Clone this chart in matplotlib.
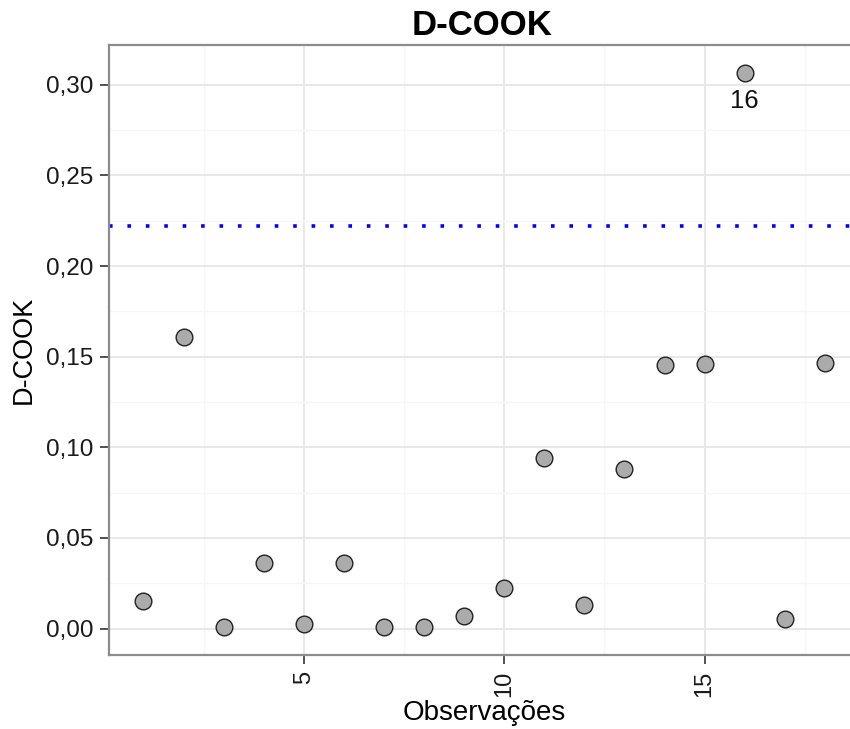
import matplotlib
matplotlib.use("Agg")
import matplotlib.pyplot as plt
import numpy as np

# Data
obs = list(range(1, 19))
cook = [0.0152, 0.1609, 0.0010, 0.0363, 0.0023, 0.0363, 0.0010, 0.0008, 0.0067,
        0.0222, 0.0941, 0.0130, 0.0880, 0.1454, 0.1458, 0.3067, 0.0052, 0.1467]
threshold = 0.2222
highlight = [16]
x_ticks = [5, 10, 15]
y_ticks = [0.00, 0.05, 0.10, 0.15, 0.20, 0.25, 0.30]
y_ticklabels = ["0,00", "0,05", "0,10", "0,15", "0,20", "0,25", "0,30"]

plt.rcParams['font.family'] = ['Liberation Sans', 'DejaVu Sans']

fig = plt.figure(figsize=(8.5, 7.29), dpi=100)
ax = fig.add_axes([109/850, 1 - 655/729, (859 - 109)/850, (655 - 45)/729])

ax.set_xlim(0.14, 18.85)
ax.set_ylim(-0.0146, 0.322)

# grid
ax.set_xticks(x_ticks)
ax.set_yticks(y_ticks)
ax.set_xticks([2.5, 7.5, 12.5, 17.5], minor=True)
ax.set_yticks([0.025, 0.075, 0.125, 0.175, 0.225, 0.275], minor=True)
ax.grid(which='major', color='#E8E8E8', linewidth=1.4, zorder=0)
ax.grid(which='minor', color='#F6F6F6', linewidth=1.0, zorder=0)
ax.set_axisbelow(True)

ax.set_yticklabels(y_ticklabels, fontsize=17.5, color='#1a1a1a')
ax.set_xticklabels([str(t) for t in x_ticks], fontsize=17, rotation=90, color='#1a1a1a')
ax.tick_params(which='major', length=6.5, width=1.2, color='#333333', pad=5)
ax.tick_params(which='minor', length=0)

for s in ax.spines.values():
    s.set_color('#8c8c8c')
    s.set_linewidth(1.6)

ax.axhline(threshold, color='#0000FF', linewidth=2.6, linestyle=(0, (1, 4.1)),
           dash_capstyle='butt', zorder=2)

ax.plot(obs, cook, linestyle='none', marker='o', markersize=12,
        markerfacecolor='#ABABAB', markeredgecolor='#222222', markeredgewidth=1.0, zorder=3)

for h in highlight:
    ax.annotate(str(h), (h, cook[h - 1]), xytext=(0, -20), textcoords='offset points',
                ha='center', va='center', fontsize=18.5, color='#111111')

ax.set_title("D-COOK", fontsize=25, fontweight='bold', pad=7)
ax.title.set_position(((482 - 109) / 750, 1.0))
ax.set_xlabel("Observações", fontsize=20, labelpad=2)
ax.set_ylabel("D-COOK", fontsize=19.5, labelpad=6)

fig.savefig("out.png", dpi=100)
